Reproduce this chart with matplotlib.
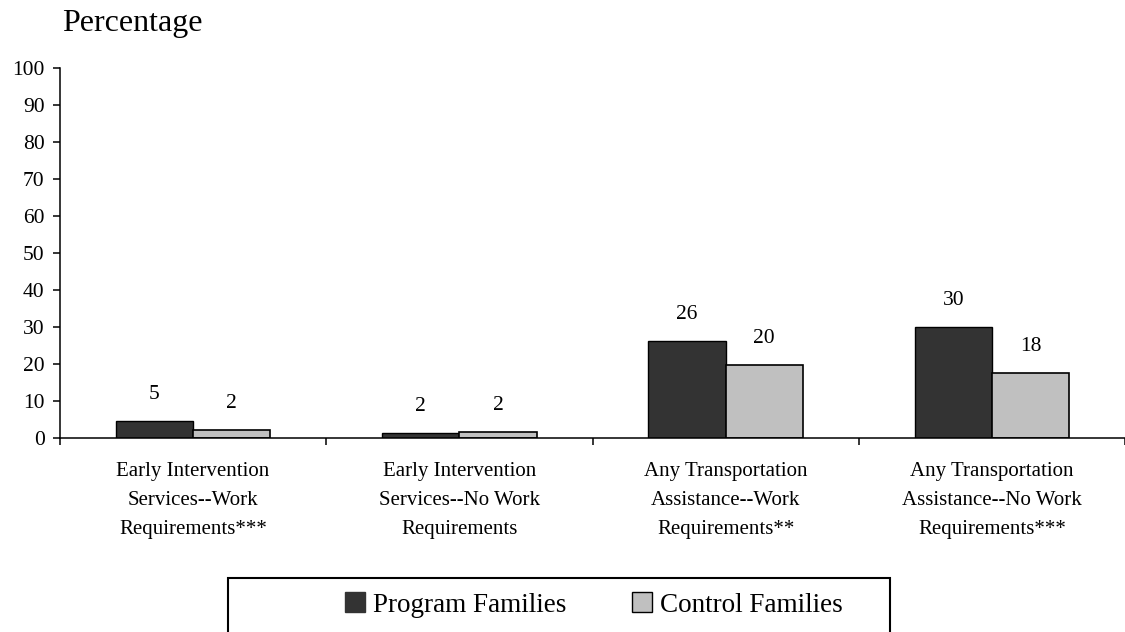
import matplotlib.pyplot as plt
from matplotlib.patches import Rectangle, Patch

plt.rcParams['font.family'] = ['Liberation Serif', 'DejaVu Serif']

# 数据
categories = [
    "Early Intervention\nServices--Work\nRequirements***",
    "Early Intervention\nServices--No Work\nRequirements",
    "Any Transportation\nAssistance--Work\nRequirements**",
    "Any Transportation\nAssistance--No Work\nRequirements***",
]
program_values = [4.6, 1.3, 26.2, 30.0]
control_values = [2.2, 1.6, 19.8, 17.6]
program_labels = ["5", "2", "26", "30"]
control_labels = ["2", "2", "20", "18"]
series_names = ["Program Families", "Control Families"]
yticks = list(range(0, 101, 10))

program_color = '#333333'
control_color = '#c0c0c0'

fig = plt.figure(figsize=(11.25, 6.32), dpi=100)
ax = fig.add_axes([60 / 1125, 1 - 438 / 632, 1 - 60 / 1125, (438 - 68) / 632])

x = list(range(len(categories)))
w = 0.29
bars_p = ax.bar([i - w / 2 for i in x], program_values, w, color=program_color,
                edgecolor='black', linewidth=1.0)
bars_c = ax.bar([i + w / 2 for i in x], control_values, w, color=control_color,
                edgecolor='black', linewidth=1.2)

# 数值标签
for bars, labels in ((bars_p, program_labels), (bars_c, control_labels)):
    for b, lab in zip(bars, labels):
        ax.annotate(lab, (b.get_x() + b.get_width() / 2, b.get_height()),
                    xytext=(0, 19), textcoords='offset points',
                    ha='center', va='center', fontsize=15.5)

ax.set_xlim(-0.5, len(categories) - 0.5)
ax.set_ylim(0, 100)
ax.set_yticks(yticks)
ax.tick_params(axis='y', direction='out', length=5, width=1.1, labelsize=15.5, pad=6)

ax.set_xticks([i - 0.5 for i in range(len(categories) + 1)])
ax.set_xticklabels([])
ax.tick_params(axis='x', which='major', direction='out', length=5, width=1.1)
ax.set_xticks(x, minor=True)
ax.set_xticklabels(categories, minor=True, fontsize=15, linespacing=1.72)
ax.tick_params(axis='x', which='minor', length=0, pad=17)

for s in ('top', 'right'):
    ax.spines[s].set_visible(False)
for s in ('left', 'bottom'):
    ax.spines[s].set_linewidth(1.1)

fig.text(62 / 1125, 1 - 23 / 632, "Percentage", fontsize=23, ha='left', va='center')

# 图例
handles = [Patch(facecolor=program_color, edgecolor=program_color),
           Patch(facecolor=control_color, edgecolor='black', linewidth=1.0)]
fig.legend(handles, series_names, loc='center left', ncol=2,
           bbox_to_anchor=(345 / 1125, 1 - 605 / 632), frameon=False,
           fontsize=19.5, handlelength=0.75, handleheight=0.75,
           handletextpad=0.3, columnspacing=2.4, borderpad=0, borderaxespad=0)
fig.patches.append(Rectangle((228 / 1125, 1 - 660 / 632), (890 - 228) / 1125, 82 / 632,
                             transform=fig.transFigure, fill=False,
                             edgecolor='black', linewidth=1.5))

fig.savefig('out.png', dpi=100)
